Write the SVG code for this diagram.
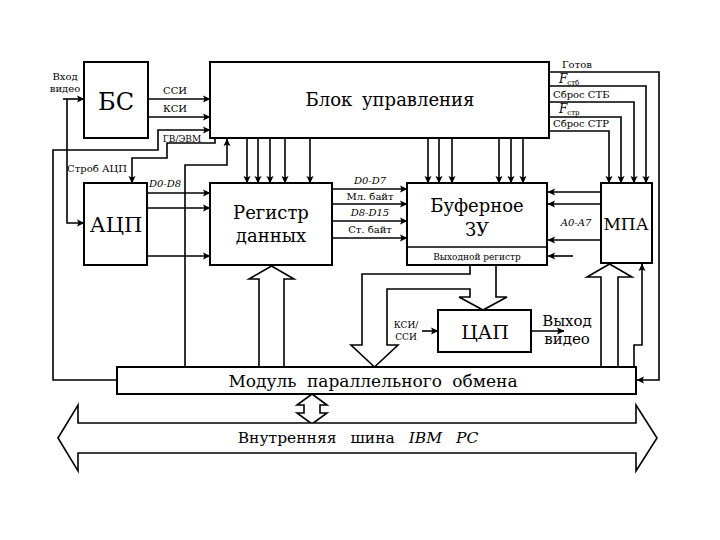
<svg xmlns="http://www.w3.org/2000/svg" width="720" height="540" viewBox="0 0 720 540" font-family="'DejaVu Serif', serif">
<defs>
<marker id="ah" markerWidth="8" markerHeight="8" refX="7" refY="4" orient="auto" markerUnits="userSpaceOnUse">
<path d="M0,0.5 L7.5,4 L0,7.5 L1.5,4 z" fill="#000"/>
</marker>
</defs>
<style>
.box{fill:#fff;stroke:#000;stroke-width:2}
.ln{fill:none;stroke:#000;stroke-width:1.6}
.ar{marker-end:url(#ah)}
.hb{fill:#fff;stroke:#000;stroke-width:1.6;stroke-linejoin:miter}
text{font-family:'DejaVu Serif',serif;fill:#000;text-anchor:middle}
.sm{font-size:10px}
.xs{font-size:9px}
.it{font-style:italic}
.l{text-anchor:start}
</style>
<rect width="720" height="540" fill="#fff"/>

<g id="connectors">
<path class="ln ar" d="M63,99 H84"/>
<path class="ln ar" d="M67,99 V223 H84"/>
<path class="ln ar" d="M148,99 H210"/>
<path class="ln ar" d="M148,117 H210"/>
<path class="ln ar" d="M117,380 H53 V150 H158 V130 H210"/>
<path class="ln ar" d="M215,138 V143 H167 V158 H132 V183"/>
<path class="ln ar" d="M185,367 V165 H227 V139"/>
<path class="ln ar" d="M247,138 V183"/>
<path class="ln ar" d="M258,138 V183"/>
<path class="ln ar" d="M270,138 V183"/>
<path class="ln ar" d="M285,138 V183"/>
<path class="ln ar" d="M310,138 V183"/>
<path class="ln ar" d="M428,138 V183"/>
<path class="ln ar" d="M439,138 V183"/>
<path class="ln ar" d="M452,138 V183"/>
<path class="ln ar" d="M499,138 V183"/>
<path class="ln ar" d="M511,138 V183"/>
<path class="ln ar" d="M523,138 V183"/>
<path class="ln ar" d="M147,193 H210"/>
<path class="ln ar" d="M147,208 H210"/>
<path class="ln ar" d="M147,256 H210"/>
<path class="ln ar" d="M332,189 H407"/>
<path class="ln ar" d="M332,204 H407"/>
<path class="ln ar" d="M332,221 H407"/>
<path class="ln ar" d="M332,238 H407"/>
<path class="ln ar" d="M601,192 H548"/>
<path class="ln ar" d="M601,204 H548"/>
<path class="ln ar" d="M601,240 H548"/>
<path class="ln ar" d="M573,256 H548"/>
<path class="ln ar" d="M549,72 H659 V380 H637"/>
<path class="ln ar" d="M549,86 H646 V183"/>
<path class="ln ar" d="M549,102 H634 V183"/>
<path class="ln ar" d="M549,117 H621 V183"/>
<path class="ln ar" d="M549,131 H609 V183"/>
<path class="ln ar" d="M634,367 V345 H642 V264"/>
<path class="ln ar" d="M422,331 H438"/>
<path class="ln ar" d="M531,331 H564"/>
<polygon class="hb" points="259,367 259,279 249,279 271.5,266 294,279 284,279 284,367"/>
<polygon class="hb" points="601,367 601,277 587,277 609.5,264 632,277 618,277 618,367"/>
<polygon class="hb" points="470,265 470,274 362,274 362,345 351,345 374.5,367 398,345 387,345 387,289 470,289 470,297 459,297 483,310 507,297 496,297 496,265"/>
<polygon class="hb" points="312,394 327,405 320,405 320,413 327,413 312,424 297,413 304,413 304,405 297,405"/>
</g>

<g id="bs"><rect class="box" x="84" y="62" width="64" height="76"/><text x="116" y="110" font-size="24">БС</text></g>
<g id="bu"><rect class="box" x="210" y="62" width="339" height="76"/><text x="390" y="106" font-size="18" word-spacing="4">Блок управления</text></g>
<g id="adc"><rect class="box" x="84" y="183" width="63" height="82"/><text x="116" y="232" font-size="21">АЦП</text></g>
<g id="reg"><rect class="box" x="210" y="183" width="122" height="82"/><text x="271" y="219" font-size="18">Регистр</text><text x="271" y="242" font-size="18">данных</text></g>
<g id="buf"><rect class="box" x="407" y="183" width="140" height="82"/><line x1="407" y1="247" x2="547" y2="247" stroke="#000" stroke-width="1.5"/><text x="477" y="212" font-size="18">Буферное</text><text x="477" y="236" font-size="18">ЗУ</text><text x="477" y="260" class="xs">Выходной регистр</text></g>
<g id="mpa"><rect class="box" x="601" y="183" width="51" height="80"/><text x="626" y="230" font-size="17">МПА</text></g>
<g id="dac"><rect class="box" x="438" y="310" width="93" height="42"/><text x="485" y="339" font-size="19">ЦАП</text></g>
<g id="mod"><rect class="box" x="117" y="367" width="519" height="27"/><text x="373" y="387" font-size="17" word-spacing="5">Модуль параллельного обмена</text></g>
<g id="bus"><polygon class="hb" points="58,438 78,405 78,423 636,423 636,405 657,438 636,471 636,453 78,453 78,471"/><text x="358" y="443" font-size="15.5" word-spacing="9">Внутренняя шина <tspan class="it">IBM PC</tspan></text></g>

<g id="labels">
<text x="65" y="80" class="sm">Вход</text>
<text x="65" y="92" class="sm">видео</text>
<text x="175" y="94" class="sm">ССИ</text>
<text x="175" y="112" class="sm">КСИ</text>
<text x="182" y="142" class="xs">ГВ/ЭВМ</text>
<text x="97" y="172" class="sm">Строб АЦП</text>
<text x="165" y="187" class="sm it">D0-D8</text>
<text x="370" y="184" class="sm it">D0-D7</text>
<text x="370" y="200" class="sm">Мл. байт</text>
<text x="370" y="216" class="sm it">D8-D15</text>
<text x="370" y="233" class="sm">Ст. байт</text>
<text x="576" y="226" class="sm it">A0-A7</text>
<text x="562" y="68" class="sm l">Готов</text>
<text x="559" y="83" class="sm l"><tspan class="it" font-size="12">F</tspan><tspan font-size="7" dy="2">стб</tspan></text>
<text x="553" y="98" class="sm l">Сброс СТБ</text>
<text x="559" y="113" class="sm l"><tspan class="it" font-size="12">F</tspan><tspan font-size="7" dy="2">стр</tspan></text>
<text x="553" y="127" class="sm l">Сброс СТР</text>
<text x="406" y="328" class="xs">КСИ/</text>
<text x="406" y="340" class="xs">ССИ</text>
<text x="567" y="326" font-size="15">Выход</text>
<text x="567" y="344" font-size="15">видео</text>
</g>
</svg>
